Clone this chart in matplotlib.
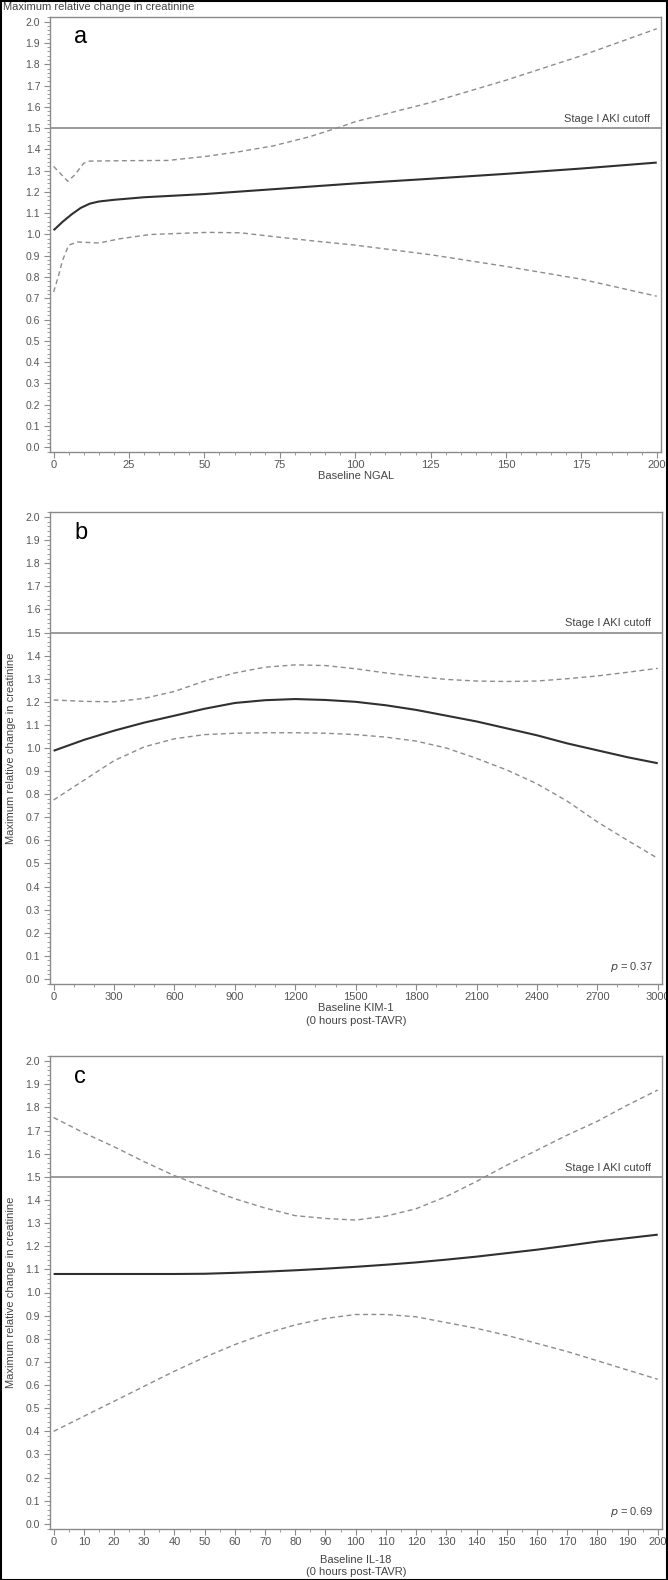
import matplotlib
matplotlib.use("Agg")
import matplotlib.pyplot as plt
from matplotlib.ticker import MultipleLocator
from matplotlib.patches import Rectangle

plt.rcParams['font.family'] = ['Liberation Sans', 'DejaVu Sans']

# ---------------- data ----------------
# Panel a: NGAL
a_x_main = [0, 3, 6, 9, 12, 15, 20, 30, 50, 75, 100, 125, 150, 175, 200]
a_y_main = [1.02, 1.06, 1.095, 1.125, 1.145, 1.155, 1.163, 1.175, 1.19, 1.215, 1.24, 1.262, 1.285, 1.31, 1.338]
a_x_up = [0, 2, 4.7, 7, 10, 12, 25, 38, 51, 62, 73, 85, 95, 100, 125, 150, 175, 200]
a_y_up = [1.32, 1.29, 1.25, 1.28, 1.335, 1.345, 1.347, 1.348, 1.368, 1.39, 1.417, 1.46, 1.505, 1.53, 1.62, 1.725, 1.84, 1.967]
a_x_lo = [0, 1.5, 3, 5, 8, 15, 22, 32, 51, 62, 73, 86, 100, 125, 150, 175, 200]
a_y_lo = [0.73, 0.80, 0.88, 0.95, 0.965, 0.96, 0.98, 1.00, 1.01, 1.008, 0.99, 0.97, 0.95, 0.905, 0.85, 0.79, 0.71]

# Panel b: KIM-1
b_x_main = [0, 150, 300, 450, 600, 750, 900, 1050, 1200, 1350, 1500, 1650, 1800,
            1950, 2100, 2250, 2400, 2550, 2700, 2850, 3000]
b_y_main = [0.988, 1.035, 1.075, 1.11, 1.14, 1.17, 1.195, 1.207, 1.212, 1.208, 1.20, 1.185, 1.165,
            1.14, 1.115, 1.085, 1.055, 1.02, 0.99, 0.96, 0.934]
b_x_up = b_x_main
b_y_up = [1.208, 1.202, 1.20, 1.215, 1.245, 1.29, 1.325, 1.35, 1.36, 1.357, 1.343, 1.325, 1.31,
          1.297, 1.29, 1.288, 1.29, 1.30, 1.312, 1.328, 1.345]
b_x_lo = b_x_main
b_y_lo = [0.775, 0.86, 0.945, 1.005, 1.04, 1.058, 1.064, 1.066, 1.066, 1.064, 1.058, 1.047, 1.03,
          1.0, 0.955, 0.905, 0.845, 0.77, 0.68, 0.60, 0.522]

# Panel c: IL-18
c_x_main = [0, 10, 20, 30, 40, 50, 60, 70, 80, 90, 100, 110, 120, 130, 140, 150, 160, 170, 180, 190, 200]
c_y_main = [1.08, 1.08, 1.08, 1.08, 1.08, 1.081, 1.085, 1.09, 1.096, 1.103, 1.111, 1.12, 1.13,
            1.142, 1.155, 1.17, 1.185, 1.202, 1.22, 1.235, 1.25]
c_x_up = c_x_main
c_y_up = [1.756, 1.69, 1.63, 1.565, 1.505, 1.455, 1.405, 1.365, 1.332, 1.32, 1.313, 1.33, 1.362,
          1.415, 1.48, 1.55, 1.615, 1.68, 1.74, 1.81, 1.875]
c_x_lo = c_x_main
c_y_lo = [0.40, 0.465, 0.53, 0.595, 0.66, 0.72, 0.775, 0.822, 0.86, 0.888, 0.905, 0.905, 0.895,
          0.87, 0.845, 0.815, 0.78, 0.745, 0.705, 0.665, 0.625]

cutoff = 1.5
p_values = [None, "0.37", "0.69"]
letters = ["a", "b", "c"]
xlabels = [["Baseline NGAL"],
           ["Baseline KIM-1", "(0 hours post-TAVR)"],
           ["Baseline IL-18", "(0 hours post-TAVR)"]]
xmax = [200, 3000, 200]
xmajor = [25, 300, 10]
xminor = [5, 100, 5]
ylabel = "Maximum relative change in creatinine"

# ---------------- layout ----------------
W, H = 668, 1580
fig = plt.figure(figsize=(W / 100, H / 100), dpi=100)

def rect(l, r, t, b):
    return [l / W, 1 - b / H, (r - l) / W, (b - t) / H]

rects = [rect(50, 661, 17, 452), rect(50, 662, 512, 984), rect(50, 662, 1056, 1529)]
xlabel_y = [[476], [1008, 1021], [1560, 1572]]

GREY = '#8a8a8a'
TXT = '#555555'
FS = 7.5

data = [(a_x_main, a_y_main, a_x_up, a_y_up, a_x_lo, a_y_lo),
        (b_x_main, b_y_main, b_x_up, b_y_up, b_x_lo, b_y_lo),
        (c_x_main, c_y_main, c_x_up, c_y_up, c_x_lo, c_y_lo)]

for i in range(3):
    ax = fig.add_axes(rects[i])
    xm, ym, xu, yu, xl, yl = data[i]
    ax.plot(xu, yu, color='#8c8c8c', lw=1.0, ls=(0, (3.5, 2.5)))
    ax.plot(xl, yl, color='#8c8c8c', lw=1.0, ls=(0, (3.5, 2.5)))
    ax.plot(xm, ym, color='#303030', lw=1.5, solid_capstyle='butt')
    ax.axhline(cutoff, color=GREY, lw=1.2)
    ax.text(xmax[i] * 0.988, cutoff + 0.018, "Stage I AKI cutoff",
            ha='right', va='bottom', fontsize=FS + 0.5, color='#444444')
    ax.text(0.04, 0.955, letters[i], transform=ax.transAxes, ha='left', va='center',
            fontsize=17, color='black')
    if p_values[i] is not None:
        ax.text(0.985, 0.035, r"$\it{p}$ = " + p_values[i], transform=ax.transAxes,
                ha='right', va='center', fontsize=FS + 0.5, color='#444444')
    xr = xmax[i]
    ax.set_xlim(-0.006 * xr, xr * 1.007)
    ax.set_ylim(-0.022, 2.022)
    ax.xaxis.set_minor_locator(MultipleLocator(xminor[i]))
    ax.yaxis.set_minor_locator(MultipleLocator(0.02))
    ax.set_yticks([k / 10 for k in range(21)])
    ax.set_yticklabels([f"{k / 10:.1f}" for k in range(21)])
    ax.set_xticks(list(range(0, xr + 1, xmajor[i])))
    ax.tick_params(axis='y', which='major', length=4, width=0.8, color=GREY, labelsize=FS,
                   labelcolor=TXT, pad=3)
    ax.tick_params(axis='x', which='major', length=4, width=0.8, color=GREY, labelsize=FS + 0.5,
                   labelcolor=TXT, pad=2)
    ax.tick_params(which='minor', length=2, width=0.6, color=GREY)
    for s in ax.spines.values():
        s.set_color(GREY)
        s.set_linewidth(1.0)
    for line, yy in zip(xlabels[i], xlabel_y[i]):
        fig.text(356 / W, 1 - yy / H, line, ha='center', va='center', fontsize=FS + 0.5,
                 color='#444444')
    if i == 0:
        fig.text(3 / W, 1 - 7 / H, ylabel, ha='left', va='center', fontsize=FS + 0.5,
                 color='#444444')
    else:
        b = rects[i]
        fig.text(11 / W, b[1] + b[3] / 2, ylabel, ha='center', va='center', rotation=90,
                 fontsize=FS + 0.5, color='#444444')

# border
fig.add_artist(Rectangle((0.5 / W, 0.5 / H), 1 - 1.5 / W, 1 - 1.5 / H, transform=fig.transFigure,
                         fill=False, edgecolor='black', lw=1.5))

fig.savefig("out.png", dpi=100)
